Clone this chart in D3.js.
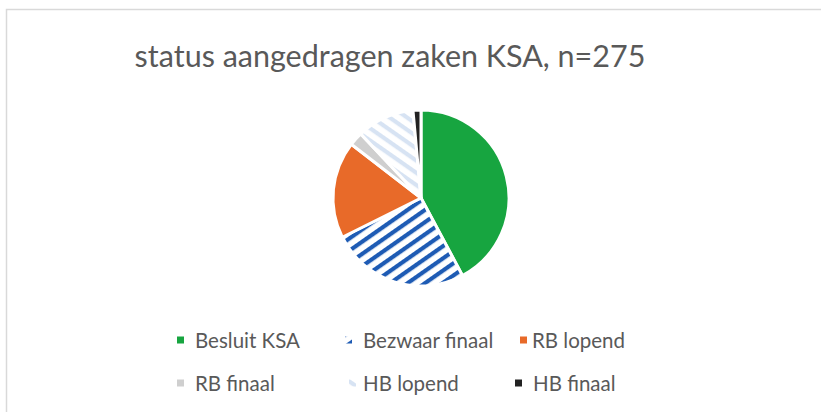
<!DOCTYPE html>
<html>
<head>
<meta charset="utf-8">
<script src="https://cdn.jsdelivr.net/npm/d3@7/dist/d3.min.js"></script>
<style>
  html, body { margin: 0; padding: 0; background: #fff; }
  svg { display: block; }
  text { font-family: Lato, "Open Sans", sans-serif; fill: #595959; }
</style>
</head>
<body>
<svg id="chart" width="821" height="412"></svg>
<script>
// ---- data ----
const title = "status aangedragen zaken KSA, n=275";
const categories = ["Besluit KSA", "Bezwaar finaal", "RB lopend", "RB finaal", "HB lopend", "HB finaal"];
const values = [116, 70, 49, 7, 29, 4];

// ---- styles ----
const fills = ["#17a540", "url(#stripeUp)", "#e86a29", "#cfcfcf", "url(#stripeDown)", "#222222"];

const W = 821, H = 412;
const svg = d3.select("#chart");

// patterns
const defs = svg.append("defs");
function stripe(id, color, angle, period, thick) {
  const p = defs.append("pattern")
    .attr("id", id)
    .attr("patternUnits", "userSpaceOnUse")
    .attr("width", period).attr("height", period)
    .attr("patternTransform", `rotate(${angle})`);
  p.append("rect").attr("width", period).attr("height", period).attr("fill", "#ffffff");
  p.append("rect").attr("x", 0).attr("y", 0).attr("width", period).attr("height", thick).attr("fill", color);
}
stripe("stripeUp", "#1e5bb4", -35, 10, 4.2);
stripe("stripeDown", "#d7e3f3", 35, 10, 4.2);

// chart border
svg.append("rect")
  .attr("x", 6.5).attr("y", 9.5)
  .attr("width", 900).attr("height", 500)
  .attr("fill", "none")
  .attr("stroke", "#d9d9d9")
  .attr("stroke-width", 1.5);

// title
svg.append("text")
  .attr("x", 390).attr("y", 67)
  .attr("text-anchor", "middle")
  .style("font-size", "30.5px")
  .text(title);

// pie
const cx = 421, cy = 198, r = 88;
const pie = d3.pie().sort(null).value(d => d.v);
const arc = d3.arc().innerRadius(0).outerRadius(r);
const data = categories.map((c, i) => ({ c, v: values[i], i }));

svg.append("g")
  .attr("transform", `translate(${cx},${cy})`)
  .selectAll("path")
  .data(pie(data))
  .join("path")
  .attr("d", arc)
  .attr("fill", d => fills[d.data.i])
  .attr("stroke", "#ffffff")
  .attr("stroke-width", 3)
  .attr("stroke-linejoin", "round");

// legend
const rowY = [340, 383];
const markerX = [[177, 345, 520], [177, 349, 515]];
const textX = [[195, 363, 532], [195, 363, 533]];
const lg = svg.append("g");
categories.forEach((c, i) => {
  const row = Math.floor(i / 3), col = i % 3;
  const y = rowY[row];
  lg.append("rect")
    .attr("x", markerX[row][col]).attr("y", y - 3.5)
    .attr("width", 7).attr("height", 7)
    .attr("fill", fills[i]);
  lg.append("text")
    .attr("x", textX[row][col]).attr("y", y)
    .attr("dominant-baseline", "central")
    .style("font-size", "20.5px")
    .text(c);
});
</script>
</body>
</html>
